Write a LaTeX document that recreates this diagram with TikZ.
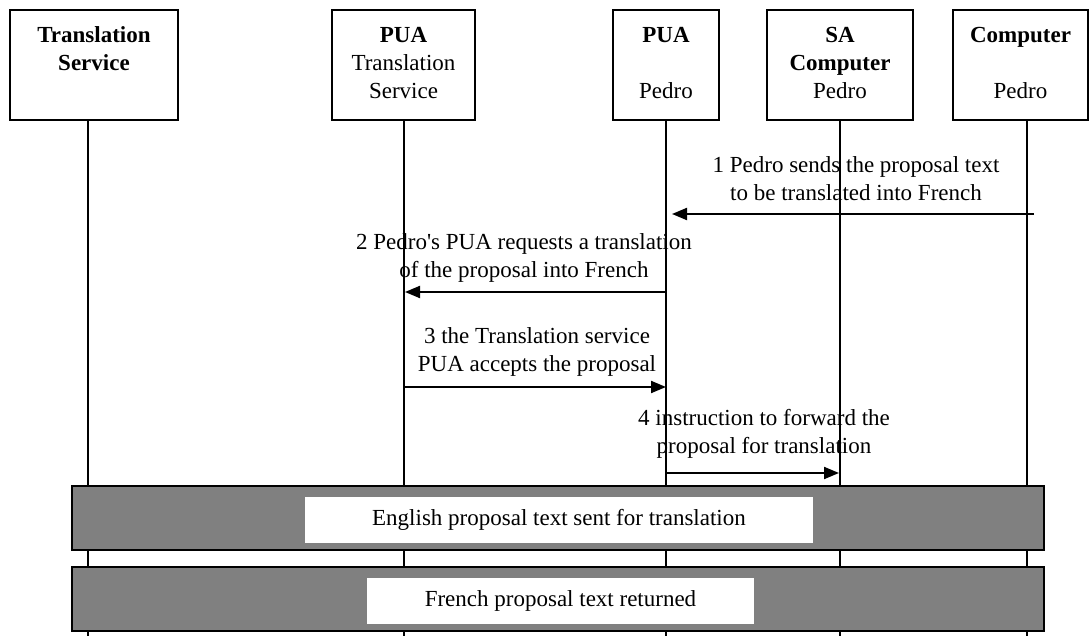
\documentclass[tikz,border=0pt]{standalone}
\usepackage{fontspec}
\setmainfont{Liberation Serif}
\usepackage{tikz}
\usetikzlibrary{arrows.meta,positioning,calc}

\begin{document}
\begin{tikzpicture}[x=0.5pt, y=-0.5pt,
    actor/.style={rectangle, draw, line width=1pt, minimum height=55pt, inner sep=0pt, font=\fontsize{11.5}{14}\selectfont, align=center},
    life/.style={line width=0.75pt},
    msg/.style={-{Triangle[length=7.5pt,width=6pt]}, line width=1pt},
    msgtext/.style={font=\fontsize{11.5}{14}\selectfont, align=center, inner sep=0pt},
    bar/.style={rectangle, draw, line width=1pt, fill=black!50, minimum width=486pt, minimum height=32pt, inner sep=0pt},
    barlabel/.style={rectangle, fill=white, minimum height=23pt, inner sep=0pt, font=\fontsize{11.5}{14}\selectfont}
]
\useasboundingbox (0,0) rectangle (1089,636);

% actors
\node[actor, minimum width=84pt] (ts) at (94,65) {\strut\textbf{Translation}\\\strut\textbf{Service}\\\strut};
\node[actor, minimum width=71.5pt] (puats) at (403.5,65) {\strut\textbf{PUA}\\\strut Translation\\\strut Service};
\node[actor, minimum width=53pt] (puapedro) at (666,65) {\strut\textbf{PUA}\\\strut\\\strut Pedro};
\node[actor, minimum width=73pt] (sapedro) at (840,65) {\strut\textbf{SA}\\\strut\textbf{Computer}\\\strut Pedro};
\node[actor, minimum width=67.5pt] (comppedro) at (1020.5,65) {\strut\textbf{Computer}\\\strut\\\strut Pedro};

% lifelines
\coordinate (tsend) at (88,636);
\coordinate (puatsend) at (404,636);
\coordinate (puapedroend) at (666,636);
\coordinate (sapedroend) at (840,636);
\coordinate (comppedroend) at (1027,636);
\draw[life] (ts.south -| tsend) -- (tsend);
\draw[life] (puats.south -| puatsend) -- (puatsend);
\draw[life] (puapedro.south -| puapedroend) -- (puapedroend);
\draw[life] (sapedro.south -| sapedroend) -- (sapedroend);
\draw[life] (comppedro.south -| comppedroend) -- (comppedroend);

% messages
\coordinate (m1from) at (1034,214);
\coordinate (m1to) at (672,214);
\draw[msg] (m1from) -- (m1to);
\node[msgtext] (t1) at (856,179) {1 Pedro sends the proposal text\\to be translated into French};

\coordinate (m2from) at (666,292);
\coordinate (m2to) at (405,292);
\draw[msg] (m2from) -- (m2to);
\node[msgtext] (t2) at (524,258) {2 Pedro\textquotesingle s PUA requests a translation\\of the proposal into French};

\coordinate (m3from) at (404,387);
\coordinate (m3to) at (666,387);
\draw[msg] (m3from) -- (m3to);
\node[msgtext] (t3) at (537,352) {3 the Translation service\\PUA accepts the proposal};

\coordinate (m4from) at (666,473);
\coordinate (m4to) at (839,473);
\draw[msg] (m4from) -- (m4to);
\node[msgtext] (t4) at (764,434) {4 instruction to forward the\\proposal for translation};

% transfer bars
\node[bar] (sent) at (558,518) {};
\node[barlabel, minimum width=254pt] (sentlabel) at (559,520) {English proposal text sent for translation};
\node[bar] (returned) at (558,599.5) {};
\node[barlabel, minimum width=193.5pt] (returnedlabel) at (560.5,601) {French proposal text returned};

\end{tikzpicture}
\end{document}
